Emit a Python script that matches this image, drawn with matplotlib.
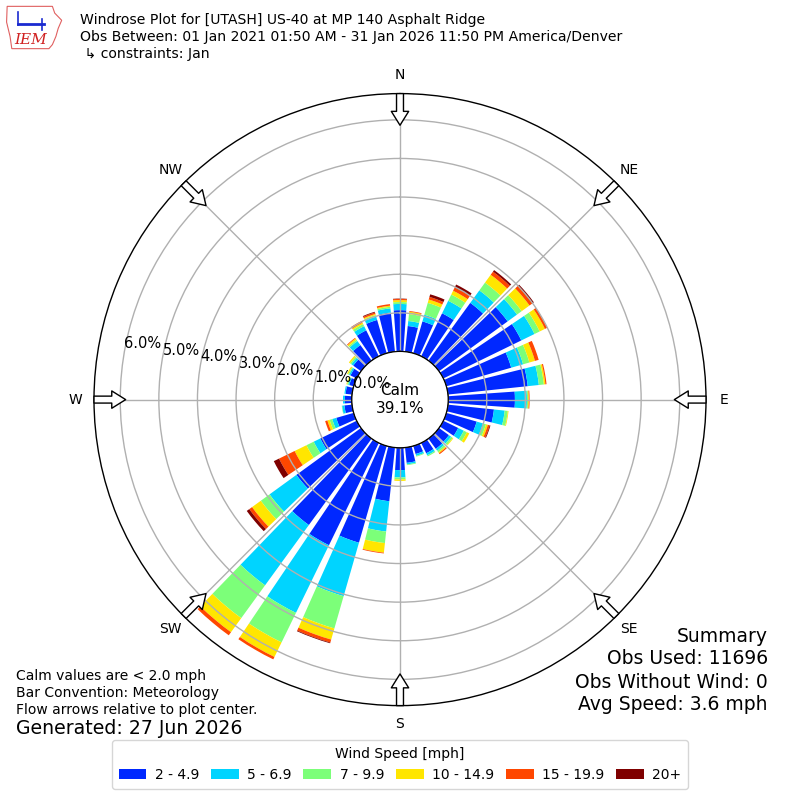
import matplotlib
matplotlib.use('Agg')
import matplotlib.pyplot as plt
import numpy as np
from matplotlib.patches import Patch, Polygon

# Направления (градусы, откуда дует ветер)
directions = np.arange(0, 360, 10)

# Доли (%) по классам скорости для каждого направления
spd_2_5 = [1.07, 0.67, 0.86, 1.24, 1.85, 2.20, 2.25, 1.75, 2.08, 1.73, 1.20, 0.82,
           0.43, 0.32, 0.33, 0.30, 0.22, 0.40, 0.58, 1.40, 2.61, 2.95, 2.77, 2.07,
           1.05, 0.47, 0.20, 0.18, 0.17, 0.12, 0.18, 0.25, 0.50, 0.75, 0.90, 1.02]
spd_5_7 = [0.16, 0.13, 0.18, 0.36, 0.40, 0.30, 0.38, 0.32, 0.29, 0.31, 0.28, 0.17,
           0.16, 0.07, 0.06, 0.06, 0.05, 0.04, 0.19, 0.79, 1.44, 1.95, 1.93, 0.86,
           0.19, 0.11, 0.06, 0.05, 0.03, 0.03, 0.04, 0.06, 0.13, 0.12, 0.09, 0.11]
spd_7_10 = [0.05, 0.18, 0.32, 0.18, 0.25, 0.15, 0.15, 0.17, 0.13, 0.03, 0.08, 0.08,
            0.09, 0.05, 0.05, 0.03, 0.02, 0.02, 0.05, 0.30, 0.87, 0.85, 1.05, 0.28,
            0.21, 0.07, 0.01, 0.00, 0.00, 0.03, 0.03, 0.04, 0.04, 0.06, 0.04, 0.04]
spd_10_15 = [0.05, 0.06, 0.09, 0.11, 0.25, 0.25, 0.15, 0.15, 0.04, 0.02, 0.02, 0.05,
             0.07, 0.02, 0.03, 0.00, 0.00, 0.00, 0.04, 0.25, 0.30, 0.42, 0.45, 0.28,
             0.34, 0.06, 0.00, 0.00, 0.00, 0.02, 0.03, 0.04, 0.04, 0.04, 0.03, 0.03]
spd_15_20 = [0.03, 0.02, 0.07, 0.10, 0.10, 0.10, 0.07, 0.10, 0.03, 0.02, 0.00, 0.05,
             0.00, 0.00, 0.03, 0.00, 0.00, 0.00, 0.00, 0.02, 0.08, 0.07, 0.10, 0.09,
             0.45, 0.06, 0.00, 0.00, 0.00, 0.00, 0.00, 0.00, 0.02, 0.05, 0.04, 0.04]
spd_20p = [0.01, 0.00, 0.07, 0.08, 0.05, 0.04, 0.00, 0.00, 0.00, 0.00, 0.00, 0.02,
           0.00, 0.00, 0.00, 0.00, 0.00, 0.00, 0.00, 0.00, 0.02, 0.00, 0.00, 0.08,
           0.15, 0.00, 0.00, 0.00, 0.00, 0.00, 0.00, 0.00, 0.00, 0.00, 0.02, 0.00]

bin_labels = ['2 - 4.9', '5 - 6.9', '7 - 9.9', '10 - 14.9', '15 - 19.9', '20+']
bin_colors = ['#0028ff', '#00d4ff', '#7cff79', '#ffe600', '#ff4700', '#7f0000']
calm_pct = 39.1

compass = ['N', 'NE', 'E', 'SE', 'S', 'SW', 'W', 'NW']
r_ticks = [0, 1, 2, 3, 4, 5, 6]

rmax = 6.68
rorig = 1.247

fig = plt.figure(figsize=(8, 8), dpi=100)
ax = fig.add_axes([0.1175, 0.118, 0.765, 0.765], projection='polar')
ax.set_theta_zero_location('N')
ax.set_theta_direction(-1)

theta = np.deg2rad(directions)
width = np.deg2rad(10) * 0.8
base = np.zeros(len(directions))
for vals, c in zip([spd_2_5, spd_5_7, spd_7_10, spd_10_15, spd_15_20, spd_20p], bin_colors):
    vals = np.array(vals)
    ax.bar(theta, vals, width=width, bottom=base, color=c, linewidth=0)
    base = base + vals

ax.set_ylim(0, rmax)
ax.set_rorigin(-rorig)
ax.set_yticks(r_ticks)
ax.set_yticklabels([f'{v:.1f}%' for v in r_ticks], fontsize=10.5)
ax.set_rlabel_position(280)
ax.set_xticks(np.deg2rad(np.arange(0, 360, 45)))
ax.set_xticklabels([])
ax.grid(True, color='#b0b0b0', linewidth=1)
ax.spines['polar'].set_linewidth(1)

# Окружность штиля
circ = np.linspace(0, 2 * np.pi, 361)
ax.plot(circ, np.zeros_like(circ), color='black', linewidth=1)
ax.text(0.5, 0.5, f'Calm\n{calm_pct:.1f}%', transform=ax.transAxes,
        ha='center', va='center', fontsize=11)

# Стрелки и подписи сторон света
for i, lab in enumerate(compass):
    t = np.deg2rad(i * 45)
    ax.annotate('', xy=(t, 5.86), xytext=(t, rmax),
                arrowprops=dict(arrowstyle='simple,head_width=1.25,head_length=1.0,tail_width=0.5',
                                fc='white', ec='black', lw=1, shrinkA=0, shrinkB=0,
                                mutation_scale=10),
                annotation_clip=False)
    ax.text(t, 7.15, lab, ha='center', va='center', fontsize=10)

# Логотип IEM (упрощённо)
lax = fig.add_axes([6 / 800, 1 - 50 / 800, 58 / 800, 45 / 800])
lax.set_xlim(0, 1)
lax.set_ylim(0, 1)
lax.axis('off')
iowa = [(0.02, 0.97), (0.80, 0.97), (0.84, 0.82), (0.96, 0.66), (0.90, 0.48),
        (0.86, 0.30), (0.80, 0.12), (0.74, 0.03), (0.10, 0.03), (0.07, 0.30),
        (0.01, 0.62)]
lax.add_patch(Polygon(iowa, closed=True, fc='white', ec='#e06060', lw=0.8))
lax.plot([0.2, 0.65], [0.58, 0.58], color='#1a2ad0', lw=2)
lax.plot([0.2, 0.2], [0.55, 0.85], color='#1a2ad0', lw=1.2)
lax.plot([0.62, 0.62], [0.45, 0.7], color='#1a2ad0', lw=1.2)
lax.text(0.42, 0.22, 'IEM', ha='center', va='center', fontsize=11,
         color='#d02020', family='DejaVu Serif', style='italic')

# Заголовок
fig.text(0.1, 1 - 20 / 800, 'Windrose Plot for [UTASH] US-40 at MP 140 Asphalt Ridge',
         fontsize=10.1, va='center')
fig.text(0.1, 1 - 37 / 800,
         'Obs Between: 01 Jan 2021 01:50 AM - 31 Jan 2026 11:50 PM America/Denver',
         fontsize=10.1, va='center')
fig.text(0.1, 1 - 54 / 800, ' \u21b3 constraints: Jan', fontsize=10.1, va='center')

# Подписи внизу слева
fig.text(0.02, 1 - 676 / 800, 'Calm values are < 2.0 mph', fontsize=10, va='center')
fig.text(0.02, 1 - 693 / 800, 'Bar Convention: Meteorology', fontsize=10, va='center')
fig.text(0.02, 1 - 710 / 800, 'Flow arrows relative to plot center.', fontsize=10, va='center')
fig.text(0.02, 1 - 729 / 800, 'Generated: 27 Jun 2026', fontsize=13.6, va='center')

# Сводка справа
summary = ['Summary', 'Obs Used: 11696', 'Obs Without Wind: 0', 'Avg Speed: 3.6 mph']
for i, s in enumerate(summary):
    fig.text(0.96, 1 - (636 + 23 * i) / 800, s, fontsize=13.5, ha='right', va='center')

handles = [Patch(facecolor=c) for c in bin_colors]
fig.legend(handles, bin_labels, loc='lower center', bbox_to_anchor=(0.5, 0.005),
           ncol=6, fontsize=10, title='Wind Speed [mph]', title_fontsize=10,
           handlelength=2.0, handletextpad=0.6, columnspacing=0.85, borderpad=0.5)

plt.savefig('out.png', dpi=100)
